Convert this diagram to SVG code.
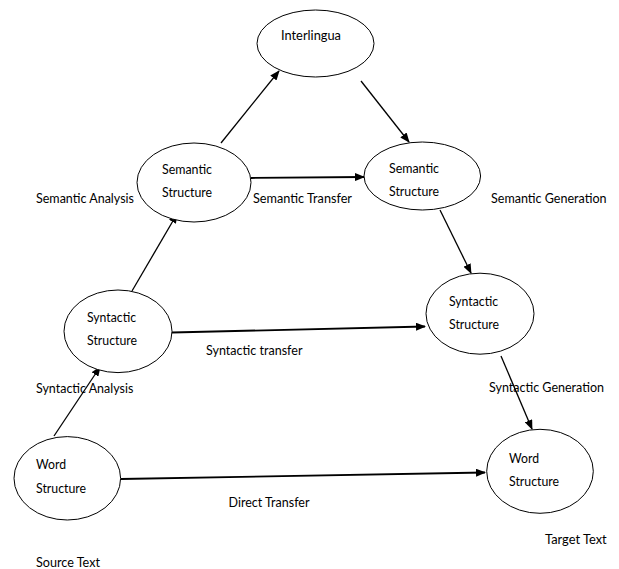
<svg xmlns="http://www.w3.org/2000/svg" width="619" height="569" viewBox="0 0 619 569">
<defs>
<style>
text{font-family:Lato,"Liberation Sans",sans-serif;font-size:13.5px;fill:#000}
.node ellipse{fill:#fff;stroke:#000;stroke-width:1}
.c line{stroke:#000;stroke-width:1.3;fill:none}
.c line.t{stroke-width:1.8}
</style>
<marker id="ah" markerWidth="10" markerHeight="8" refX="9" refY="4" orient="auto" markerUnits="userSpaceOnUse">
<path d="M0,0 L10,4 L0,8 Z" fill="#000"/>
</marker>
</defs>
<rect width="619" height="569" fill="#fff"/>

<g id="connectors" class="c">
<line x1="221" y1="143" x2="279" y2="71" marker-end="url(#ah)"/>
<line x1="361" y1="81" x2="409" y2="142" marker-end="url(#ah)"/>
<line class="t" x1="251" y1="178" x2="364" y2="177" marker-end="url(#ah)"/>
<line x1="440" y1="210" x2="471" y2="273" marker-end="url(#ah)"/>
<line x1="132" y1="291" x2="177" y2="214" marker-end="url(#ah)"/>
<line class="t" x1="172" y1="332.5" x2="425" y2="326.5" marker-end="url(#ah)"/>
<line x1="501" y1="356" x2="532" y2="429" marker-end="url(#ah)"/>
<line x1="54" y1="436" x2="100" y2="367" marker-end="url(#ah)"/>
<line class="t" x1="121" y1="479" x2="485" y2="472.5" marker-end="url(#ah)"/>
</g>

<g id="interlingua" class="node">
<ellipse cx="315.5" cy="43.5" rx="58.5" ry="33.5"/>
<text x="281" y="40" textLength="60" lengthAdjust="spacingAndGlyphs">Interlingua</text>
</g>
<g id="semantic-source" class="node">
<ellipse cx="194" cy="182.5" rx="57" ry="39.5"/>
<text x="162" y="173.5" textLength="50" lengthAdjust="spacingAndGlyphs">Semantic</text>
<text x="162" y="196.5" textLength="50" lengthAdjust="spacingAndGlyphs">Structure</text>
</g>
<g id="semantic-target" class="node">
<ellipse cx="422.3" cy="176" rx="58.3" ry="34"/>
<text x="389" y="173" textLength="50" lengthAdjust="spacingAndGlyphs">Semantic</text>
<text x="389" y="195.5" textLength="50" lengthAdjust="spacingAndGlyphs">Structure</text>
</g>
<g id="syntactic-source" class="node">
<ellipse cx="118" cy="331.3" rx="54" ry="41.3"/>
<text x="87" y="322" textLength="49" lengthAdjust="spacingAndGlyphs">Syntactic</text>
<text x="87" y="344.5" textLength="50" lengthAdjust="spacingAndGlyphs">Structure</text>
</g>
<g id="syntactic-target" class="node">
<ellipse cx="480" cy="313.7" rx="54" ry="40.5"/>
<text x="449" y="306" textLength="49" lengthAdjust="spacingAndGlyphs">Syntactic</text>
<text x="449" y="329" textLength="50" lengthAdjust="spacingAndGlyphs">Structure</text>
</g>
<g id="word-source" class="node">
<ellipse cx="67.3" cy="478.3" rx="53.3" ry="41.7"/>
<text x="36" y="468.5" textLength="30" lengthAdjust="spacingAndGlyphs">Word</text>
<text x="36" y="493" textLength="50" lengthAdjust="spacingAndGlyphs">Structure</text>
</g>
<g id="word-target" class="node">
<ellipse cx="540" cy="471.3" rx="53.3" ry="42"/>
<text x="509" y="463" textLength="30" lengthAdjust="spacingAndGlyphs">Word</text>
<text x="509" y="485.5" textLength="50" lengthAdjust="spacingAndGlyphs">Structure</text>
</g>

<g id="labels">
<text x="36" y="202.5" textLength="98" lengthAdjust="spacingAndGlyphs">Semantic Analysis</text>
<text x="253" y="202.5" textLength="99" lengthAdjust="spacingAndGlyphs">Semantic Transfer</text>
<text x="491" y="203" textLength="115.5" lengthAdjust="spacingAndGlyphs">Semantic Generation</text>
<text x="206" y="354.5" textLength="96.5" lengthAdjust="spacingAndGlyphs">Syntactic transfer</text>
<text x="36" y="393" textLength="97.3" lengthAdjust="spacingAndGlyphs">Syntactic Analysis</text>
<text x="489" y="392" textLength="115" lengthAdjust="spacingAndGlyphs">Syntactic Generation</text>
<text x="228.5" y="507" textLength="81" lengthAdjust="spacingAndGlyphs">Direct Transfer</text>
<text x="545" y="543.5" textLength="61.7" lengthAdjust="spacingAndGlyphs">Target Text</text>
<text x="36" y="567" textLength="64" lengthAdjust="spacingAndGlyphs">Source Text</text>
</g>
</svg>
